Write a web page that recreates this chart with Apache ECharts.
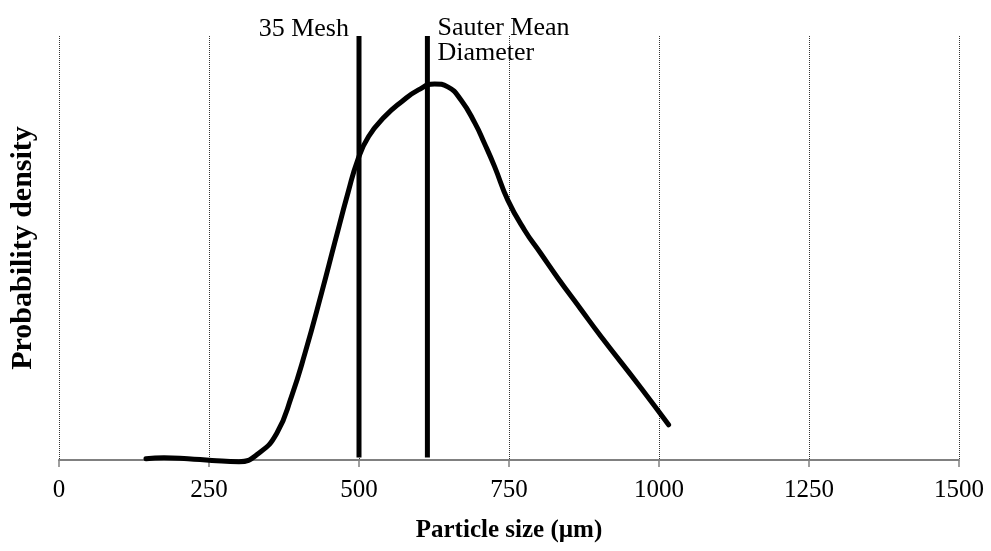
<!DOCTYPE html>
<html>
<head>
<meta charset="utf-8">
<script src="https://cdn.jsdelivr.net/npm/echarts@6/dist/echarts.min.js"></script>
<style>
  html, body { margin: 0; padding: 0; background: #fff; }
  #chart { width: 991px; height: 551px; }
</style>
</head>
<body>
<div id="chart"></div>
<script>
// particle size (um) and probability density (relative, 0-100 of plot height)
var sizes = [145, 175, 215, 255, 300, 333, 363, 388, 410, 438, 460, 482, 498, 516, 543, 571, 599, 626, 648, 670, 693, 709, 726, 748, 776, 803, 831, 870, 903, 970, 1016];
var density = [0.3, 0.55, 0.3, -0.1, -0.4, 1.6, 6.3, 15.2, 25.2, 39.6, 51.5, 63.2, 70.8, 76.3, 81, 84.5, 87.3, 88.7, 88, 84.9, 79.5, 74.7, 69.2, 61.3, 54.2, 48.7, 43, 35.5, 29.2, 17, 8.3];

var meshSize = 500;      // 35 Mesh
var sauterSize = 614;    // Sauter mean diameter
var markerBottom = 0.6;
var markerTop = 100;

var xTicks = [0, 250, 500, 750, 1000, 1250, 1500];

var serif = "'Liberation Serif', 'Times New Roman', serif";

document.addEventListener("DOMContentLoaded", function() {
  var chart = echarts.init(document.getElementById('chart'));

  var curve = sizes.map(function(s, i) { return [s, density[i]]; });

  function marker(x, text, labelPos, offset) {
    return {
      type: 'line',
      clip: false,
      symbol: 'circle',
      symbolSize: 0.1,
      showSymbol: true,
      itemStyle: { color: '#000' },
      lineStyle: { color: '#000', width: 5 },
      data: [
        {
          value: [x, markerTop],
          label: {
            show: true, position: labelPos, distance: 10, offset: offset,
            formatter: text, fontFamily: serif, fontSize: 26,
            lineHeight: 25, color: '#000'
          }
        },
        [x, markerBottom]
      ]
    };
  }

  var option = {
    animation: false,
    backgroundColor: '#fff',
    grid: { left: 56, right: 32, top: 36, bottom: 91 },
    xAxis: {
      type: 'value',
      min: xTicks[0],
      max: xTicks[xTicks.length - 1],
      interval: xTicks[1] - xTicks[0],
      name: 'Particle size (µm)',
      nameLocation: 'middle',
      nameGap: 58,
      nameTextStyle: { fontFamily: serif, fontSize: 25, fontWeight: 'bold', color: '#000' },
      axisLine: { show: true, lineStyle: { color: '#808080', width: 2 } },
      axisTick: { show: true, length: 7, lineStyle: { color: '#808080', width: 1.5 } },
      axisLabel: {
        margin: 18, fontFamily: serif, fontSize: 25, color: '#000',
        formatter: function(v) { return String(v); }
      },
      splitLine: { show: true, lineStyle: { color: '#333', type: 'dotted', width: 1 } }
    },
    yAxis: {
      type: 'value',
      min: 0,
      max: 100,
      name: 'Probability density',
      nameLocation: 'middle',
      nameGap: 21,
      nameTextStyle: { fontFamily: serif, fontSize: 30, fontWeight: 'bold', color: '#000' },
      axisLine: { show: false },
      axisTick: { show: false },
      axisLabel: { show: false },
      splitLine: { show: false }
    },
    series: [
      {
        type: 'line',
        data: curve,
        smooth: 0.5,
        clip: false,
        showSymbol: false,
        lineStyle: { color: '#000', width: 5, cap: 'round' }
      },
      marker(meshSize, '35 Mesh', 'left', [0, -7]),
      marker(sauterSize, 'Sauter Mean\nDiameter', 'right', [0, 5])
    ]
  };

  chart.setOption(option);

  window.addEventListener('resize', function() {
    chart.resize();
  });
});
</script>
</body>
</html>
